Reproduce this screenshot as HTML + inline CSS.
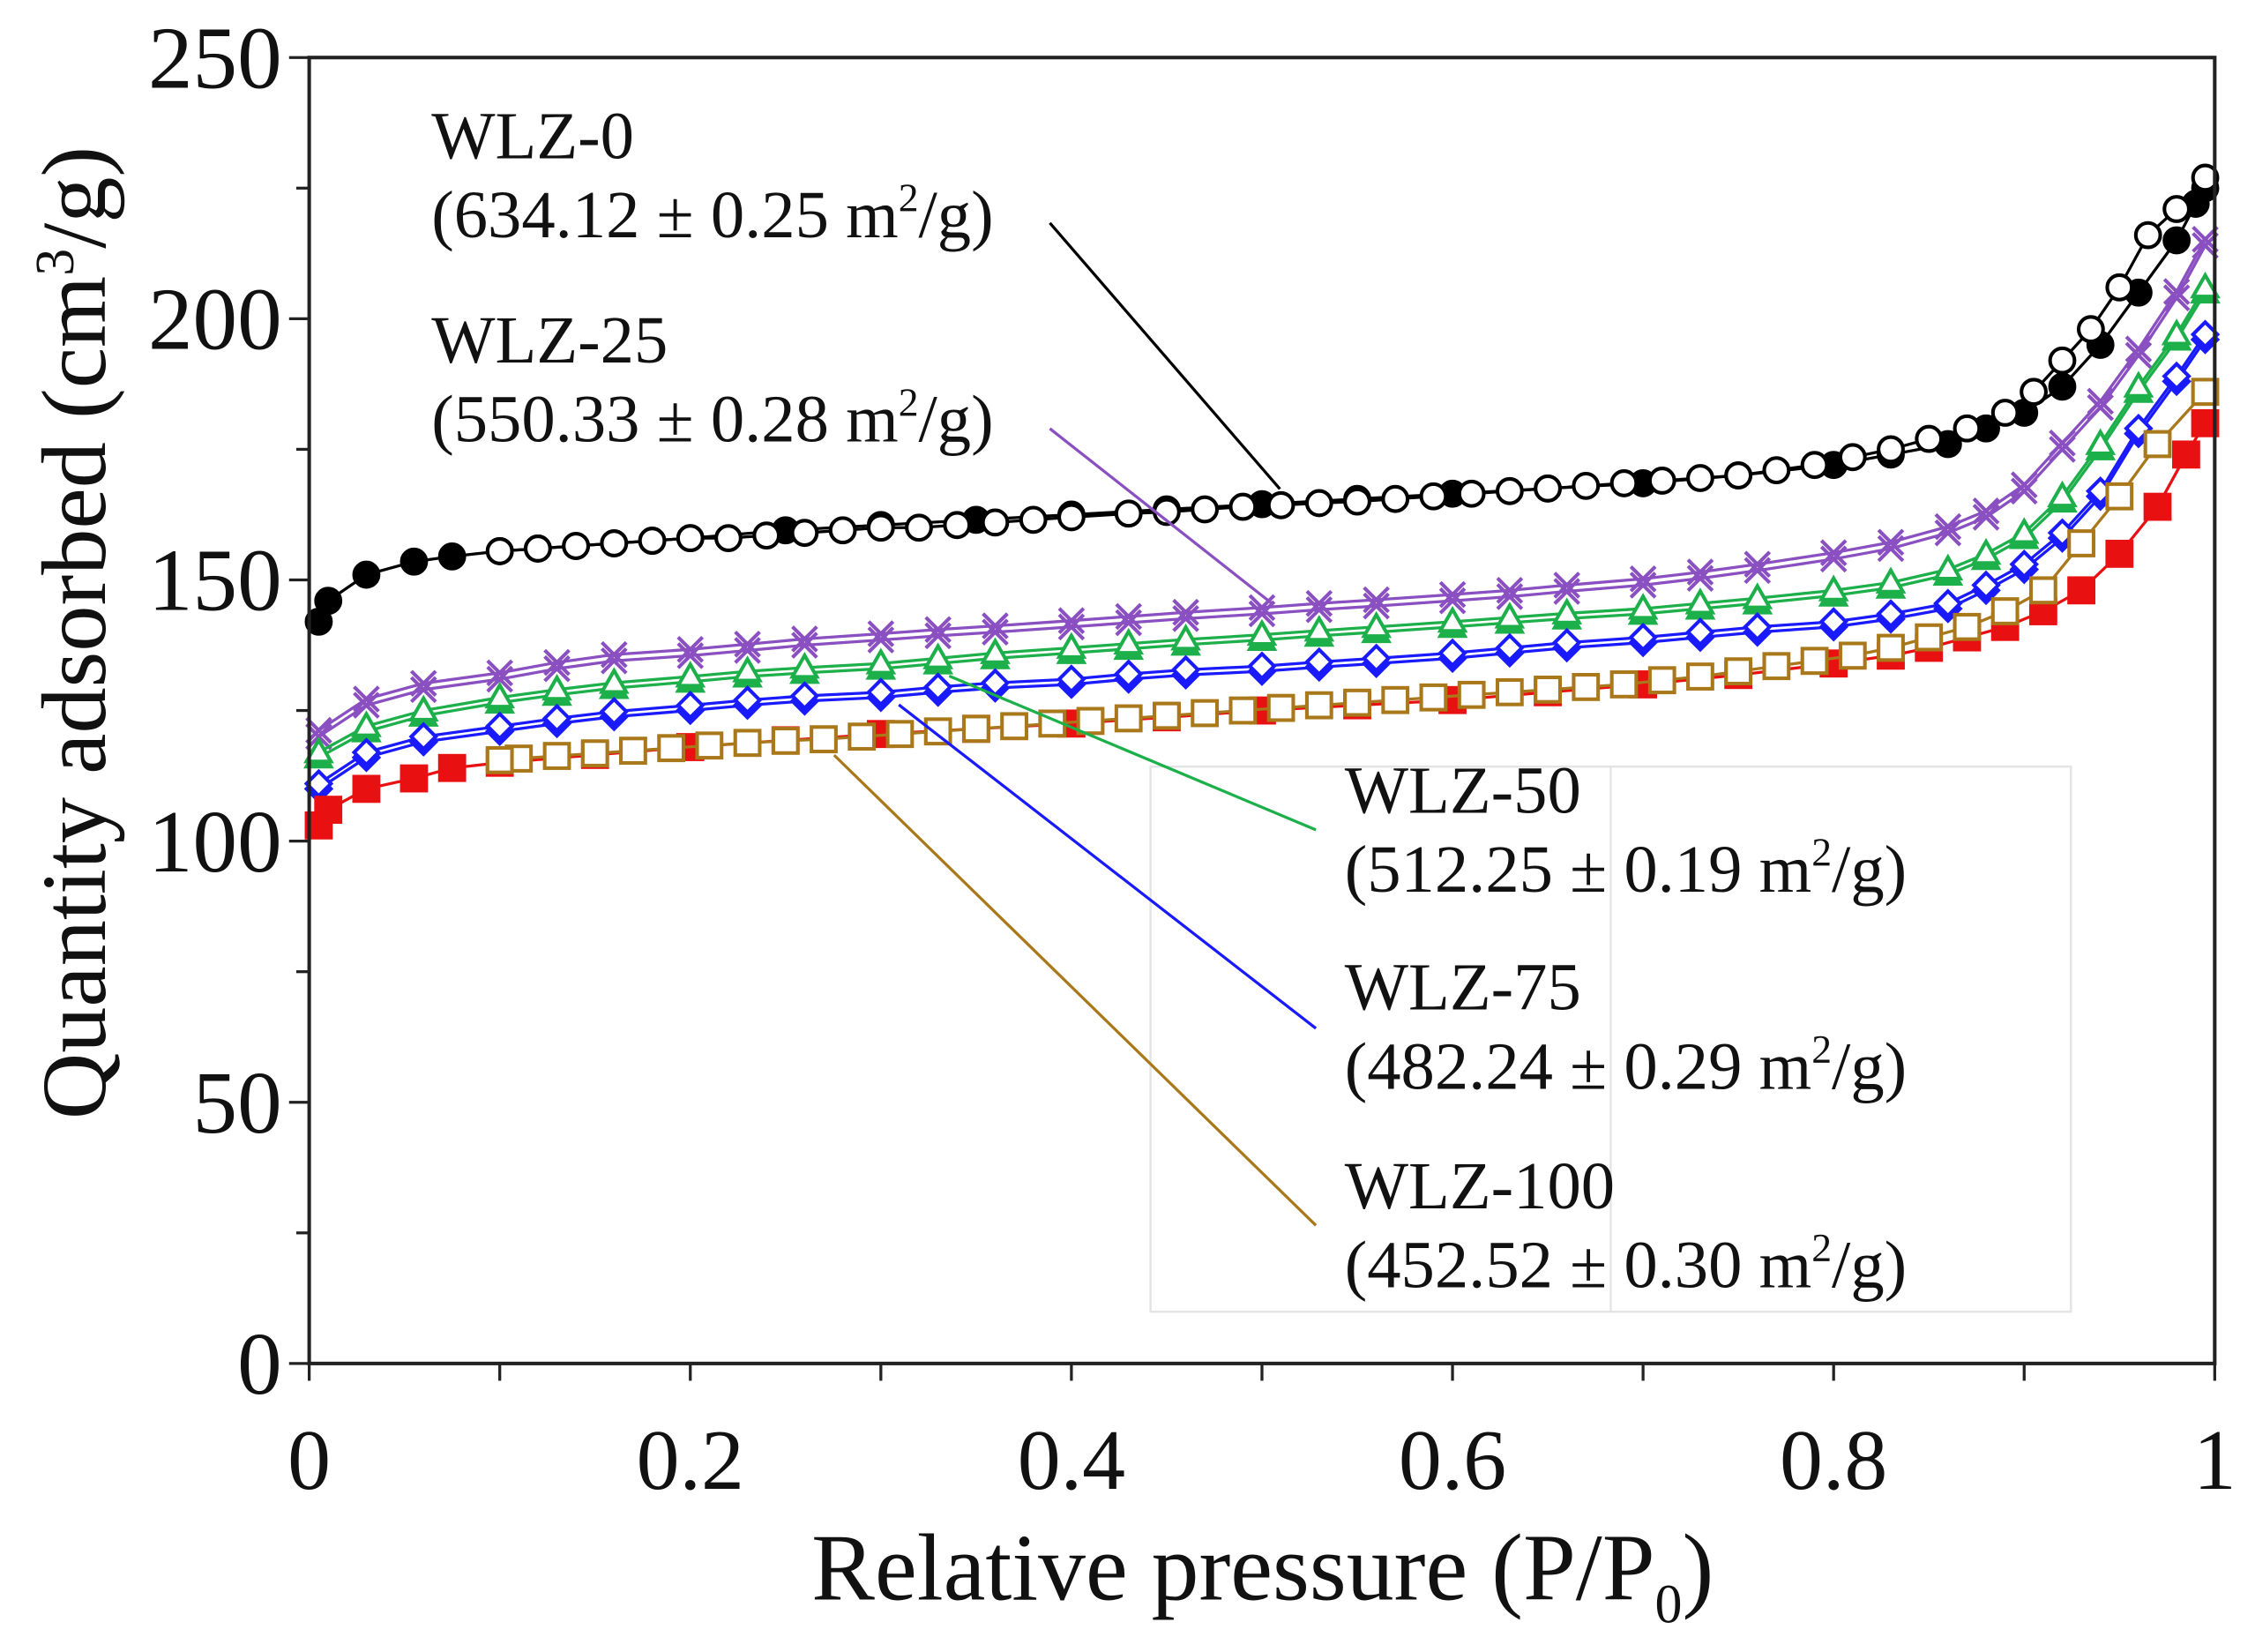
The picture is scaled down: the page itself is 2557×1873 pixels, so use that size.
<!DOCTYPE html>
<html><head><meta charset="utf-8"><style>
html,body{margin:0;padding:0;background:#fff;}
svg{display:block;}
text{font-family:"Liberation Serif",serif;fill:#111;}
</style></head><body>
<svg id="chart" width="2557" height="1873" viewBox="0 0 1568 1148.6" preserveAspectRatio="none" xmlns="http://www.w3.org/2000/svg">
<g id="legendbox">
<rect x="800" y="533" width="640" height="379" fill="none" stroke="#e4e4e4" stroke-width="1.5"/>
<line x1="1120" y1="533" x2="1120" y2="912" stroke="#e4e4e4" stroke-width="1.5"/>
</g>
<g id="marks"></g>
<g id="axes"></g>
<g id="labels">
<text x="300" y="110" font-size="47">WLZ-0</text>
<text x="300" y="165" font-size="47">(634.12 ± 0.25 m<tspan font-size="28" dy="-18">2</tspan><tspan dy="18">/g)</tspan></text>
<text x="300" y="252" font-size="47">WLZ-25</text>
<text x="300" y="307" font-size="47">(550.33 ± 0.28 m<tspan font-size="28" dy="-18">2</tspan><tspan dy="18">/g)</tspan></text>
<text x="935" y="565" font-size="47">WLZ-50</text>
<text x="935" y="620" font-size="47">(512.25 ± 0.19 m<tspan font-size="28" dy="-18">2</tspan><tspan dy="18">/g)</tspan></text>
<text x="935" y="702" font-size="47">WLZ-75</text>
<text x="935" y="757" font-size="47">(482.24 ± 0.29 m<tspan font-size="28" dy="-18">2</tspan><tspan dy="18">/g)</tspan></text>
<text x="935" y="840" font-size="47">WLZ-100</text>
<text x="935" y="895" font-size="47">(452.52 ± 0.30 m<tspan font-size="28" dy="-18">2</tspan><tspan dy="18">/g)</tspan></text>
</g>
<g id="leaders" stroke-width="2">
<line x1="730" y1="155" x2="890" y2="340" stroke="#000"/>
<line x1="730" y1="298" x2="885" y2="420" stroke="#8a4fc0"/>
<line x1="915" y1="577" x2="660" y2="470" stroke="#1db04a"/>
<line x1="915" y1="715" x2="625" y2="490" stroke="#1a1aff"/>
<line x1="915" y1="852" x2="580" y2="525" stroke="#a8781a"/>
</g>
<text x="878" y="1112" font-size="66" text-anchor="middle">Relative pressure (P/P<tspan font-size="38" dy="16">0</tspan><tspan dy="-16">)</tspan></text>
<text transform="translate(73,440) rotate(-90)" font-size="64" text-anchor="middle">Quantity adsorbed (cm<tspan font-size="38" dy="-22">3</tspan><tspan dy="22">/g)</tspan></text>
</svg>
<script>
const xTicks=[0,0.1,0.2,0.3,0.4,0.5,0.6,0.7,0.8,0.9,1];
const xTickLabels=["0","","0.2","","0.4","","0.6","","0.8","","1"];
const yTicks=[0,25,50,75,100,125,150,175,200,225,250];
const yTickLabels=["0","","50","","100","","150","","200","","250"];

const wlz0AdsX=[0.005,0.01,0.03,0.055,0.075,0.1,0.12,0.14,0.16,0.18,0.2,0.25,0.3,0.35,0.4,0.45,0.5,0.55,0.6,0.65,0.7,0.75,0.8,0.83,0.86,0.88,0.9,0.92,0.94,0.96,0.98,0.99,0.995];
const wlz0AdsY=[142,146,151,153.5,154.5,155.5,156,156.5,157,157.5,158,159.5,160.5,161.5,162.5,163.5,164.5,165.5,166.5,167.5,168.5,170,172,174,176,179,182,187,195,205,215,222,225];
const wlz0DesX=[0.995,0.98,0.965,0.95,0.935,0.92,0.905,0.89,0.87,0.85,0.83,0.81,0.79,0.77,0.75,0.73,0.71,0.69,0.67,0.65,0.63,0.61,0.59,0.57,0.55,0.53,0.51,0.49,0.47,0.45,0.43,0.4,0.38,0.36,0.34,0.32,0.3,0.28,0.26,0.24,0.22,0.2,0.18,0.16,0.14,0.12,0.1];
const wlz0DesY=[227,221,216,206,198,192,186,182,179,177,175,173.5,172,171,170,169.5,169,168.5,168,167.5,167,166.5,166,165.5,165,164.7,164.3,164,163.5,163,162.7,162,161.5,161,160.5,160,160,159.5,159,158.5,158,158,157.5,157,156.5,156,155.5];

const wlz25X=[0.005,0.03,0.06,0.1,0.13,0.16,0.2,0.23,0.26,0.3,0.33,0.36,0.4,0.43,0.46,0.5,0.53,0.56,0.6,0.63,0.66,0.7,0.73,0.76,0.8,0.83,0.86,0.88,0.9,0.92,0.94,0.96,0.98,0.995];
const wlz25Y=[120,126,129,131,133,134.5,135.5,136.5,137.5,138.5,139.3,140,141,141.8,142.6,143.5,144.3,145,146,146.8,147.8,149,150.3,151.8,154,156,159,162,167,175,183,193,204,214];

const wlz50X=[0.005,0.03,0.06,0.1,0.13,0.16,0.2,0.23,0.26,0.3,0.33,0.36,0.4,0.43,0.46,0.5,0.53,0.56,0.6,0.63,0.66,0.7,0.73,0.76,0.8,0.83,0.86,0.88,0.9,0.92,0.94,0.96,0.98,0.995];
const wlz50Y=[116,121,124,126.5,128,129.3,130.5,131.5,132.2,133,134,135,136,136.8,137.6,138.5,139.3,140,141,141.8,142.6,143.5,144.5,145.5,147,148.5,151,154,158,165,175,186,196,205];

const wlz75X=[0.005,0.03,0.06,0.1,0.13,0.16,0.2,0.23,0.26,0.3,0.33,0.36,0.4,0.43,0.46,0.5,0.53,0.56,0.6,0.63,0.66,0.7,0.73,0.76,0.8,0.83,0.86,0.88,0.9,0.92,0.94,0.96,0.98,0.995];
const wlz75Y=[110,116,119,121,122.5,123.8,125,126,126.8,127.5,128.5,129.3,130,131,131.8,132.5,133.3,134,135,136,137,138,139,140,141,142.5,144.5,148,152,158,166,178,188,196];

const wlz100AdsX=[0.005,0.01,0.03,0.055,0.075,0.1,0.15,0.2,0.25,0.3,0.35,0.4,0.45,0.5,0.55,0.6,0.65,0.7,0.75,0.8,0.83,0.85,0.87,0.89,0.91,0.93,0.95,0.97,0.985,0.995];
const wlz100AdsY=[103,106,110,112,114,115,116.5,118,119.3,120.5,121.5,122.5,123.7,125,126,127,128.5,130,131.8,134,135.5,137,139,141,144,148,155,164,174,180];
const wlz100DesX=[0.995,0.97,0.95,0.93,0.91,0.89,0.87,0.85,0.83,0.81,0.79,0.77,0.75,0.73,0.71,0.69,0.67,0.65,0.63,0.61,0.59,0.57,0.55,0.53,0.51,0.49,0.47,0.45,0.43,0.41,0.39,0.37,0.35,0.33,0.31,0.29,0.27,0.25,0.23,0.21,0.19,0.17,0.15,0.13,0.11,0.1];
const wlz100DesY=[186,176,166,157,148,144,141,139,137,135.5,134.5,133.5,132.5,131.5,130.8,130,129.5,129,128.5,128,127.5,127,126.5,126,125.5,125,124.5,124,123.5,123,122.5,122,121.5,121,120.5,120,119.5,119.2,118.8,118.3,117.8,117.3,116.8,116.3,115.8,115.5];

const X0=215,X1=1540,Y0=948,Y1=40;
const sx=v=>X0+(X1-X0)*v;
const sy=v=>Y0-(Y0-Y1)*v/250;
const NS="http://www.w3.org/2000/svg";
const marks=document.getElementById('marks');
const axes=document.getElementById('axes');
function mk(tag,attrs,parent){const e=document.createElementNS(NS,tag);for(const k in attrs)e.setAttribute(k,attrs[k]);parent.appendChild(e);return e;}

function line(xs,ys,color,name){
  const p=mk('polyline',{points:xs.map((x,i)=>sx(x)+','+sy(ys[i])).join(' '),fill:'none',stroke:color,'stroke-width':2},marks);
  
  
}
function marker(type,x,y,stroke,fill,name){
  const cx=sx(x),cy=sy(y),r=8.5;let e;
  const a={stroke:stroke,fill:fill,'stroke-width':2.5};
  if(type==='circle'){e=mk('circle',Object.assign({cx:cx,cy:cy,r:r},a),marks);}
  else if(type==='square'){e=mk('rect',Object.assign({x:cx-r,y:cy-r,width:2*r,height:2*r},a),marks);}
  else if(type==='diamond'){e=mk('polygon',Object.assign({points:`${cx},${cy-r} ${cx+r},${cy} ${cx},${cy+r} ${cx-r},${cy}`},a),marks);}
  else if(type==='triangle'){e=mk('polygon',Object.assign({points:`${cx},${cy-r} ${cx+r},${cy+r*0.75} ${cx-r},${cy+r*0.75}`},a),marks);}
  else {e=mk('path',Object.assign({d:`M${cx-r} ${cy-r}L${cx+r} ${cy+r}M${cx+r} ${cy-r}L${cx-r} ${cy+r}`},a),marks);}
  
  
}
function series(xs,ys,type,color,fill,lc,name){
  line(xs,ys,lc,name+'-line');
  xs.forEach((x,i)=>marker(type,x,ys[i],color,fill,name+'-point'));
}
series(wlz25X,wlz25Y,'x','#8a4fc0','none','#8a4fc0','wlz25-ads');
series(wlz25X,wlz25Y.map(v=>v+1.2),'x','#8a4fc0','none','#8a4fc0','wlz25-des');
series(wlz50X,wlz50Y,'triangle','#1db04a','#1db04a','#1db04a','wlz50-ads');
series(wlz50X,wlz50Y.map(v=>v+1),'triangle','#1db04a','#fff','#1db04a','wlz50-des');
series(wlz75X,wlz75Y,'diamond','#1a1aff','#1a1aff','#1a1aff','wlz75-ads');
series(wlz75X,wlz75Y.map(v=>v+1),'diamond','#1a1aff','#fff','#1a1aff','wlz75-des');
series(wlz100AdsX,wlz100AdsY,'square','#e81010','#e81010','#e81010','wlz100-ads');
series(wlz100DesX,wlz100DesY,'square','#a8781a','#fff','#a8781a','wlz100-des');
series(wlz0AdsX,wlz0AdsY,'circle','#000','#000','#000','wlz0-ads');
series(wlz0DesX,wlz0DesY,'circle','#000','#fff','#000','wlz0-des');

let f=mk('rect',{x:X0,y:Y1,width:X1-X0,height:Y0-Y1,fill:'none',stroke:'#222','stroke-width':2.5},axes);


xTicks.forEach((t,i)=>{
  const tk=mk('line',{x1:sx(t),y1:Y0,x2:sx(t),y2:Y0+12,stroke:'#222','stroke-width':2},axes);
  
  
  if(xTickLabels[i]){
    const tl=mk('text',{x:sx(t),y:1035,'font-size':60,'text-anchor':'middle'},axes);
    tl.textContent=xTickLabels[i];
    
    
  }
});
yTicks.forEach((t,i)=>{
  const big=!!yTickLabels[i];
  const tk=mk('line',{x1:X0-(big?14:9),y1:sy(t),x2:X0,y2:sy(t),stroke:'#222','stroke-width':2},axes);
  
  
  if(big){
    const tl=mk('text',{x:196,y:sy(t)+21,'font-size':62,'text-anchor':'end'},axes);
    tl.textContent=yTickLabels[i];
    
    
  }
});
</script>
</body></html>
